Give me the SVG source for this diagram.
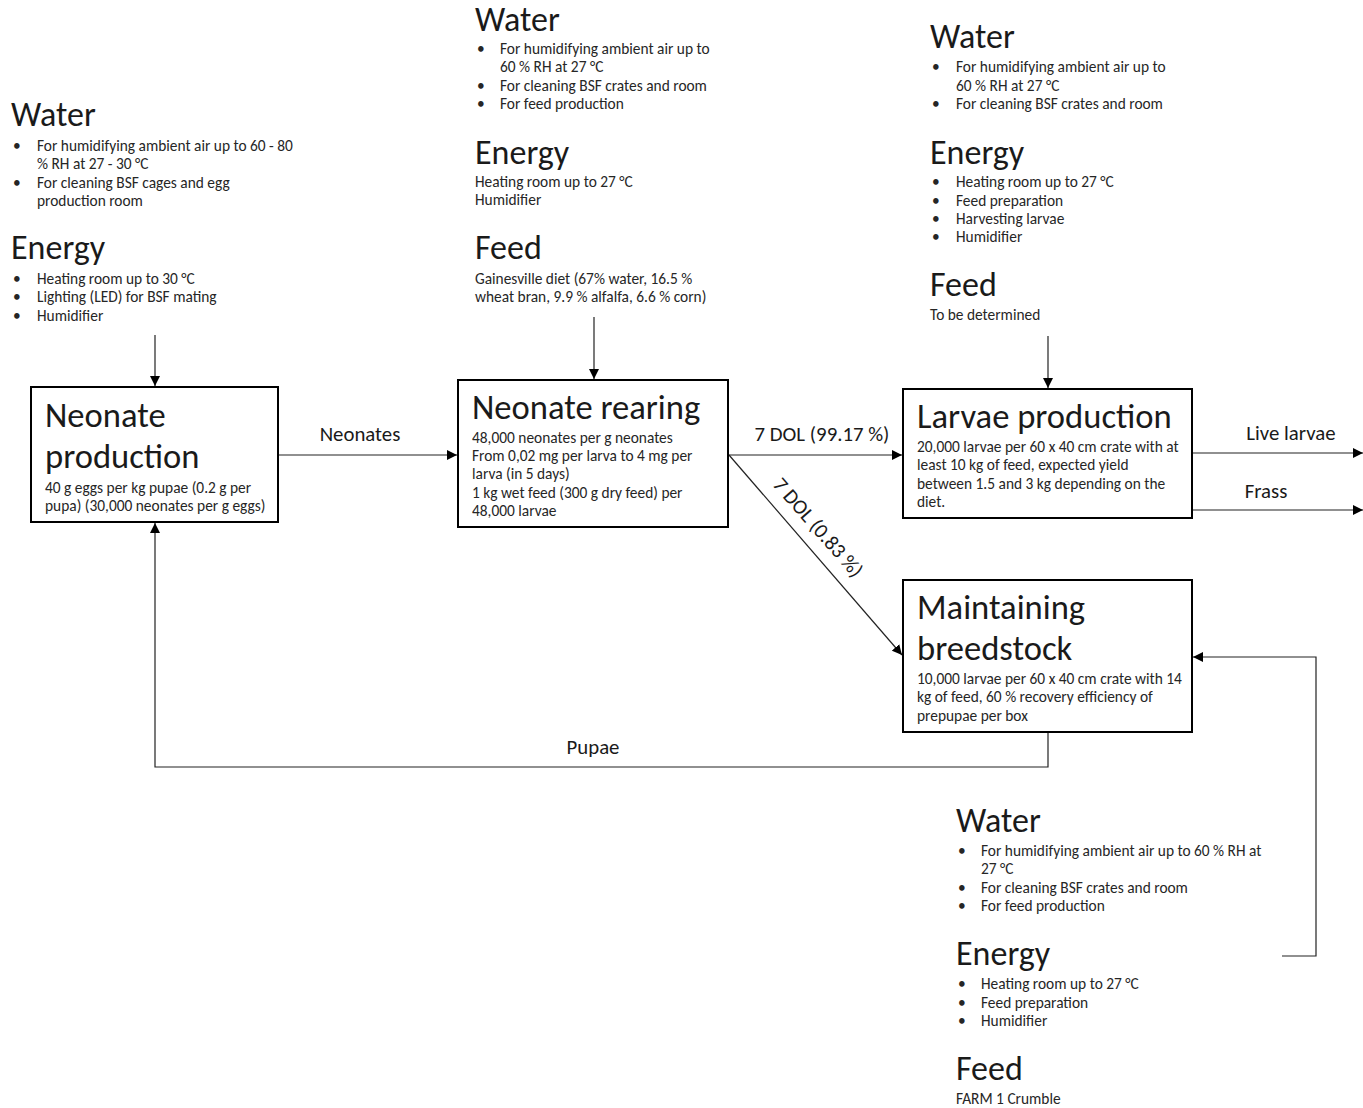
<svg xmlns="http://www.w3.org/2000/svg" width="1363" height="1108" viewBox="0 0 1363 1108">
<defs>
<style>
text{font-family:Carlito,Lato,"Liberation Sans",sans-serif;fill:#1a1a1a}
.h{font-size:34px}
.t{font-size:34.6px}
.b{font-size:15.4px;fill:#262626}
.l{font-size:20.8px}
.box{fill:#fff;stroke:#000;stroke-width:2}
.c{fill:none;stroke:#222;stroke-width:1.2}
</style>
<marker id="ah" viewBox="0 0 10 10" refX="10" refY="5" markerWidth="10" markerHeight="10" markerUnits="userSpaceOnUse" orient="auto"><path d="M0,0L10,5L0,10z" fill="#000"/></marker>
</defs>
<rect width="1363" height="1108" fill="#fff"/>

<g id="inputs-neonate-production">
<text class="h" x="11" y="126">Water</text>
<text class="b"><tspan x="13" y="151">•</tspan><tspan x="37" y="151">For humidifying ambient air up to 60 - 80</tspan><tspan x="37" y="169">% RH at 27 - 30 °C</tspan><tspan x="13" y="188">•</tspan><tspan x="37" y="188">For cleaning BSF cages and egg</tspan><tspan x="37" y="206">production room</tspan></text>
<text class="h" x="11" y="259">Energy</text>
<text class="b"><tspan x="13" y="284">•</tspan><tspan x="37" y="284">Heating room up to 30 °C</tspan><tspan x="13" y="302">•</tspan><tspan x="37" y="302">Lighting (LED) for BSF mating</tspan><tspan x="13" y="321">•</tspan><tspan x="37" y="321">Humidifier</tspan></text>
</g>

<g id="inputs-neonate-rearing">
<text class="h" x="475" y="31">Water</text>
<text class="b"><tspan x="477" y="54">•</tspan><tspan x="500" y="54">For humidifying ambient air up to</tspan><tspan x="500" y="72">60 % RH at 27 °C</tspan><tspan x="477" y="91">•</tspan><tspan x="500" y="91">For cleaning BSF crates and room</tspan><tspan x="477" y="109">•</tspan><tspan x="500" y="109">For feed production</tspan></text>
<text class="h" x="475" y="164">Energy</text>
<text class="b"><tspan x="475" y="187">Heating room up to 27 °C</tspan><tspan x="475" y="205">Humidifier</tspan></text>
<text class="h" x="475" y="259">Feed</text>
<text class="b"><tspan x="475" y="284">Gainesville diet (67% water, 16.5 %</tspan><tspan x="475" y="302">wheat bran, 9.9 % alfalfa, 6.6 % corn)</tspan></text>
</g>

<g id="inputs-larvae-production">
<text class="h" x="930" y="48">Water</text>
<text class="b"><tspan x="932" y="72">•</tspan><tspan x="956" y="72">For humidifying ambient air up to</tspan><tspan x="956" y="91">60 % RH at 27 °C</tspan><tspan x="932" y="109">•</tspan><tspan x="956" y="109">For cleaning BSF crates and room</tspan></text>
<text class="h" x="930" y="164">Energy</text>
<text class="b"><tspan x="932" y="187">•</tspan><tspan x="956" y="187">Heating room up to 27 °C</tspan><tspan x="932" y="206">•</tspan><tspan x="956" y="206">Feed preparation</tspan><tspan x="932" y="224">•</tspan><tspan x="956" y="224">Harvesting larvae</tspan><tspan x="932" y="242">•</tspan><tspan x="956" y="242">Humidifier</tspan></text>
<text class="h" x="930" y="296">Feed</text>
<text class="b" x="930" y="320">To be determined</text>
</g>

<g id="inputs-breedstock">
<text class="h" x="956" y="832">Water</text>
<text class="b"><tspan x="958" y="856">•</tspan><tspan x="981" y="856">For humidifying ambient air up to 60 % RH at</tspan><tspan x="981" y="874">27 °C</tspan><tspan x="958" y="893">•</tspan><tspan x="981" y="893">For cleaning BSF crates and room</tspan><tspan x="958" y="911">•</tspan><tspan x="981" y="911">For feed production</tspan></text>
<text class="h" x="956" y="965">Energy</text>
<text class="b"><tspan x="958" y="989">•</tspan><tspan x="981" y="989">Heating room up to 27 °C</tspan><tspan x="958" y="1008">•</tspan><tspan x="981" y="1008">Feed preparation</tspan><tspan x="958" y="1026">•</tspan><tspan x="981" y="1026">Humidifier</tspan></text>
<text class="h" x="956" y="1080">Feed</text>
<text class="b" x="956" y="1104">FARM 1 Crumble</text>
</g>

<g id="connectors">
<line class="c" x1="155" y1="335" x2="155" y2="386" marker-end="url(#ah)"/>
<line class="c" x1="594" y1="317" x2="594" y2="379" marker-end="url(#ah)"/>
<line class="c" x1="1048" y1="336" x2="1048" y2="388" marker-end="url(#ah)"/>
<line class="c" x1="279" y1="455" x2="457" y2="455" marker-end="url(#ah)"/>
<line class="c" x1="729" y1="455" x2="902" y2="455" marker-end="url(#ah)"/>
<line class="c" x1="729" y1="455" x2="902" y2="655" marker-end="url(#ah)"/>
<line class="c" x1="1193" y1="453" x2="1363" y2="453" marker-end="url(#ah)"/>
<line class="c" x1="1193" y1="510" x2="1363" y2="510" marker-end="url(#ah)"/>
<polyline class="c" points="1048,733 1048,767 155,767 155,523" marker-end="url(#ah)"/>
<polyline class="c" points="1282,956 1316,956 1316,657 1193,657" marker-end="url(#ah)"/>
<text class="l" x="360" y="441" text-anchor="middle">Neonates</text>
<text class="l" x="822" y="441" text-anchor="middle">7 DOL (99.17 %)</text>
<text class="l" transform="translate(813,532) rotate(48.8)" text-anchor="middle">7 DOL (0.83 %)</text>
<text class="l" x="1291" y="440" text-anchor="middle">Live larvae</text>
<text class="l" x="1266" y="498" text-anchor="middle">Frass</text>
<text class="l" x="593" y="754" text-anchor="middle">Pupae</text>
</g>

<g id="neonate-production">
<rect class="box" x="31" y="387" width="247" height="135"/>
<text class="t"><tspan x="45" y="427">Neonate</tspan><tspan x="45" y="468">production</tspan></text>
<text class="b"><tspan x="45" y="493">40 g eggs per kg pupae (0.2 g per</tspan><tspan x="45" y="511">pupa) (30,000 neonates per g eggs)</tspan></text>
</g>

<g id="neonate-rearing">
<rect class="box" x="458" y="380" width="270" height="147"/>
<text class="t" x="472" y="419">Neonate rearing</text>
<text class="b"><tspan x="472" y="443">48,000 neonates per g neonates</tspan><tspan x="472" y="461">From 0,02 mg per larva to 4 mg per</tspan><tspan x="472" y="479">larva (in 5 days)</tspan><tspan x="472" y="498">1 kg wet feed  (300 g dry feed) per</tspan><tspan x="472" y="516">48,000 larvae</tspan></text>
</g>

<g id="larvae-production">
<rect class="box" x="903" y="389" width="289" height="129"/>
<text class="t" x="917" y="428">Larvae production</text>
<text class="b"><tspan x="917" y="452">20,000 larvae per 60 x 40 cm crate with at</tspan><tspan x="917" y="470">least 10 kg of feed, expected yield</tspan><tspan x="917" y="489">between 1.5 and 3 kg depending on the</tspan><tspan x="917" y="507">diet.</tspan></text>
</g>

<g id="maintaining-breedstock">
<rect class="box" x="903" y="580" width="289" height="152"/>
<text class="t"><tspan x="917" y="619">Maintaining</tspan><tspan x="917" y="660">breedstock</tspan></text>
<text class="b"><tspan x="917" y="684">10,000 larvae per 60 x 40 cm crate with 14</tspan><tspan x="917" y="702">kg of feed, 60 % recovery efficiency of</tspan><tspan x="917" y="721">prepupae per box</tspan></text>
</g>
</svg>
